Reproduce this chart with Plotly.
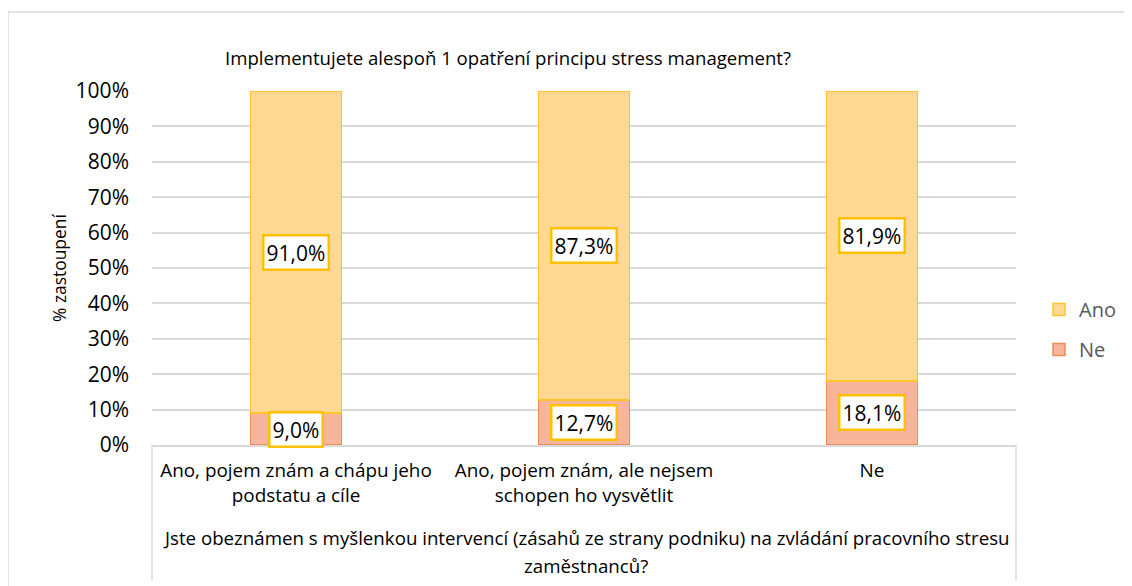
import plotly.graph_objects as go

categories = ["Ano, pojem znám a chápu jeho<br>podstatu a cíle",
              "Ano, pojem znám, ale nejsem<br>schopen ho vysvětlit",
              "Ne"]
ano_values = [91.0, 87.3, 81.9]
ne_values = [9.0, 12.7, 18.1]
y_ticks = [0, 10, 20, 30, 40, 50, 60, 70, 80, 90, 100]

title_text = "Implementujete alespoň 1 opatření principu stress management?"
x_title_lines = ["Jste obeznámen s myšlenkou intervencí (zásahů ze strany podniku) na zvládání pracovního stresu",
                 "zaměstnanců?"]
y_title = "% zastoupení"

# page body has an 8px margin: paper starts at screen (8, 8)
OFF = 8
SW, SH = 1132, 586
W, H = SW - OFF, SH - OFF
L, R, T, B = 152, 1016, 91, 445   # plot area in screen pixels
FONT = "Open Sans"

def px_x(px):
    return (px - L) / (R - L)

def px_y(py):
    return (B - py) / (B - T)

def fmt(v):
    return f"{v:.1f}".replace(".", ",") + "%"

fig = go.Figure()
fig.add_trace(go.Bar(
    x=categories, y=ne_values, name="Ne", width=0.316,
    marker=dict(color="#F7B59B", line=dict(color="#F08C5C", width=1.5)),
    legendgroup="ne", legendrank=2,
))
fig.add_trace(go.Bar(
    x=categories, y=ano_values, name="Ano", width=0.316,
    marker=dict(color="#FFD994", line=dict(color="#FFC52A", width=1.5)),
    legendgroup="ano", legendrank=1,
))

annotations = []
for c, a, n in zip(categories, ano_values, ne_values):
    for val, ypos in ((n, n / 2), (a, n + a / 2)):
        annotations.append(dict(
            x=c, y=ypos, xref="x", yref="y", text=fmt(val), showarrow=False,
            font=dict(family=FONT, size=21, color="#000000"),
            bgcolor="#FFFFFF", bordercolor="#FFC000", borderwidth=2.5, borderpad=2,
        ))

annotations.append(dict(
    x=px_x(508), y=px_y(57), xref="paper", yref="paper", text=title_text,
    showarrow=False, xanchor="center", yanchor="middle",
    font=dict(family=FONT, size=18.6, color="#000000"),
))
for line, ypx in zip(x_title_lines, (537, 565)):
    annotations.append(dict(
        x=px_x(586), y=px_y(ypx), xref="paper", yref="paper", text=line,
        showarrow=False, xanchor="center", yanchor="middle", align="center",
        font=dict(family=FONT, size=18.7, color="#000000"),
    ))
annotations.append(dict(
    x=px_x(59), y=px_y(268), xref="paper", yref="paper", text=y_title,
    showarrow=False, xanchor="center", yanchor="middle", textangle=-90,
    font=dict(family=FONT, size=17.4, color="#000000"),
))

shapes = [
    dict(type="rect", xref="paper", yref="paper",
         x0=px_x(8), x1=px_x(1145), y0=px_y(600), y1=px_y(12),
         line=dict(color="#D9D9D9", width=1.5), layer="below"),
    dict(type="line", xref="paper", yref="paper",
         x0=0, x1=0, y0=0, y1=px_y(580), line=dict(color="#D9D9D9", width=1.5)),
    dict(type="line", xref="paper", yref="paper",
         x0=1, x1=1, y0=0, y1=px_y(580), line=dict(color="#D9D9D9", width=1.5)),
]

fig.update_layout(
    width=W, height=H,
    margin=dict(l=L - OFF, r=SW - R, t=T - OFF, b=SH - B, autoexpand=False),
    paper_bgcolor="#FFFFFF", plot_bgcolor="#FFFFFF",
    barmode="stack",
    font=dict(family=FONT, size=18, color="#000000"),
    showlegend=True,
    legend=dict(x=px_x(1039), y=px_y(290), xanchor="left", yanchor="top",
                font=dict(family=FONT, size=20, color="#595959"),
                tracegroupgap=11, traceorder="grouped",
                bgcolor="rgba(0,0,0,0)"),
    annotations=annotations,
    shapes=shapes,
)
fig.update_xaxes(
    type="category", showgrid=False, showline=True, linecolor="#D9D9D9", linewidth=1.5,
    ticks="", ticklabelstandoff=8,
    tickfont=dict(family=FONT, size=18.9, color="#000000"),
    fixedrange=True,
)
fig.update_yaxes(
    range=[0, 100], tickvals=y_ticks, ticktext=[f"{v}%" for v in y_ticks],
    showgrid=True, gridcolor="#D9D9D9", gridwidth=1.5, zeroline=False,
    showline=False, ticks="", ticklabelstandoff=22,
    tickfont=dict(family=FONT, size=21, color="#000000"),
)

fig.write_html("out.html")
